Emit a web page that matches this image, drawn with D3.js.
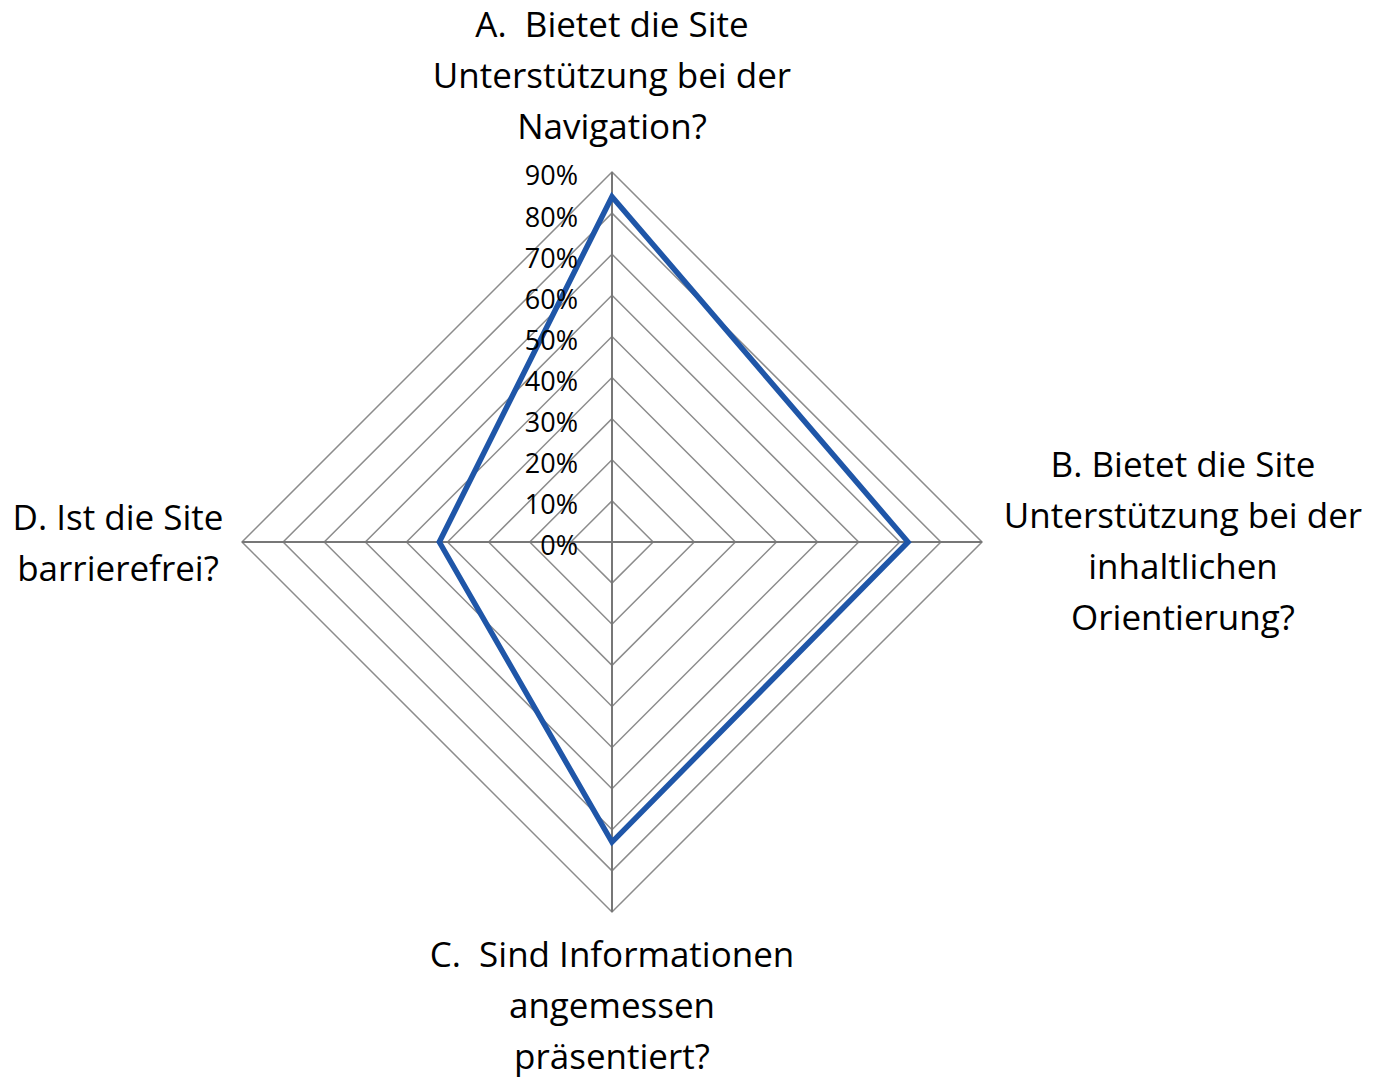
<!DOCTYPE html>
<html>
<head>
<meta charset="utf-8">
<script src="https://cdn.jsdelivr.net/npm/d3@7"></script>
<style>
  body { margin: 0; background: #fff; }
  svg text { font-family: "Open Sans", sans-serif; fill: #000; white-space: pre; }
</style>
</head>
<body>
<div id="chart"></div>
<script>
// data
const axes = ["A", "B", "C", "D"];
const values = [0.84, 0.72, 0.73, 0.42];
const ticks = [0, 0.1, 0.2, 0.3, 0.4, 0.5, 0.6, 0.7, 0.8, 0.9];
const axisLabels = [
  ["A.  Bietet die Site", "Unterstützung bei der", "Navigation?"],
  ["B. Bietet die Site", "Unterstützung bei der", "inhaltlichen", "Orientierung?"],
  ["C.  Sind Informationen", "angemessen", "präsentiert?"],
  ["D. Ist die Site", "barrierefrei?"]
];

const width = 1374, height = 1081;
const cx = 612, cy = 542;

const svg = d3.select("#chart").append("svg")
  .attr("width", width)
  .attr("height", height);

const r = d3.scaleLinear().domain([0, 0.9]).range([0, 370]);
const angle = d3.scaleBand().domain(axes).range([0, 2 * Math.PI]);
const pt = (a, v) => {
  const t = angle(a) - Math.PI / 2;
  return [cx + r(v) * Math.cos(t), cy + r(v) * Math.sin(t)];
};

const g = svg.append("g");

// grid rings
g.selectAll(".ring")
  .data(ticks.slice(1))
  .enter()
  .append("polygon")
  .attr("class", "ring")
  .attr("points", (d) => axes.map((a) => pt(a, d).join(",")).join(" "))
  .attr("fill", "none")
  .attr("stroke", "#8c8c8c")
  .attr("stroke-width", 1.5);

// spokes
g.selectAll(".spoke")
  .data(axes)
  .enter()
  .append("line")
  .attr("x1", cx)
  .attr("y1", cy)
  .attr("x2", (d) => pt(d, 0.9)[0])
  .attr("y2", (d) => pt(d, 0.9)[1])
  .attr("stroke", "#777")
  .attr("stroke-width", 2);

// series
const line = d3.line().curve(d3.curveLinearClosed);
g.append("path")
  .attr("d", line(axes.map((a, i) => pt(a, values[i]))))
  .attr("fill", "none")
  .attr("stroke", "#1f56a8")
  .attr("stroke-width", 5.5)
  .attr("stroke-linejoin", "miter");

// tick labels
g.selectAll(".tick")
  .data(ticks)
  .enter()
  .append("text")
  .attr("x", 578)
  .attr("y", (d) => cy - r(d) + 4)
  .attr("dy", "0.35em")
  .attr("text-anchor", "end")
  .style("font-size", "27px")
  .text(d3.format(".0%"));

// axis labels
const labelPos = [
  { x: 612, y: 25, anchor: "middle" },
  { x: 1183, y: 465, anchor: "middle" },
  { x: 612, y: 955, anchor: "middle" },
  { x: 118, y: 518, anchor: "middle" }
];
const lh = 51;
axisLabels.forEach((lines, i) => {
  const p = labelPos[i];
  const t = svg.append("text")
    .attr("text-anchor", p.anchor)
    .style("font-size", "35px");
  lines.forEach((s, j) => {
    t.append("tspan")
      .attr("x", p.x)
      .attr("y", p.y + j * lh)
      .attr("dy", "0.35em")
      .text(s);
  });
});
</script>
</body>
</html>
